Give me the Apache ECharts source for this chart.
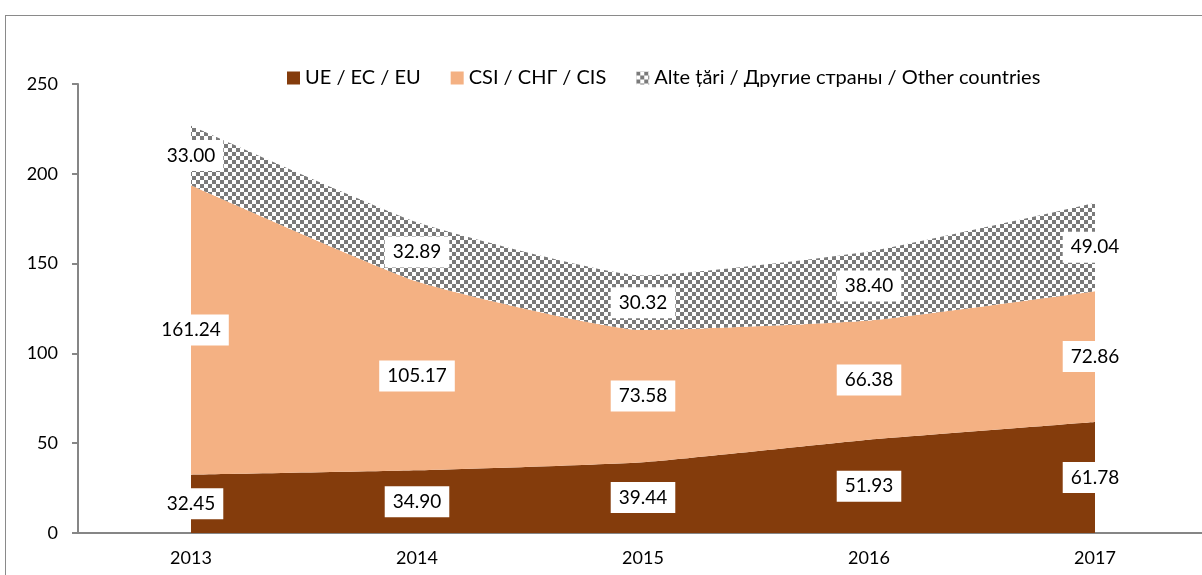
<!DOCTYPE html>
<html>
<head>
<meta charset="utf-8">
<script src="https://cdn.jsdelivr.net/npm/echarts@6/dist/echarts.min.js"></script>
<style>
  html, body { margin: 0; padding: 0; background: #fff; overflow: hidden; }
  #frame { position: absolute; left: 5px; top: 15px; width: 1210px; height: 580px; border: 1px solid #8a8a8a; box-sizing: border-box; }
  #chart { position: absolute; left: 0; top: 0; width: 1212px; height: 575px; }
</style>
</head>
<body>
<div id="frame"></div>
<div id="chart"></div>
<script>
window.addEventListener('load', function() {
// data
var years = ['2013', '2014', '2015', '2016', '2017'];
var seriesNames = ['UE / EC / EU', 'CSI / СНГ / CIS', 'Alte țări / Другие страны / Other countries'];
var ue = [32.45, 34.90, 39.44, 51.93, 61.78];
var csi = [161.24, 105.17, 73.58, 66.38, 72.86];
var other = [33.00, 32.89, 30.32, 38.40, 49.04];

// checker pattern for "other"
var pat = document.createElement('canvas');
pat.width = 8; pat.height = 8;
var ctx = pat.getContext('2d');
ctx.fillStyle = '#ffffff';
ctx.fillRect(0, 0, 8, 8);
ctx.fillStyle = '#7a7a7a';
ctx.fillRect(0, 0, 4, 4);
ctx.fillRect(4, 4, 4, 4);

var colors = ['#843c0c', '#f4b183', { image: pat, repeat: 'repeat' }];
var values = [ue, csi, other];

var series = [];
for (var i = 0; i < values.length; i++) {
  series.push({
    name: seriesNames[i],
    type: 'line',
    stack: 'total',
    smooth: 0.15,
    symbol: 'none',
    lineStyle: { width: 0 },
    itemStyle: { color: colors[i] },
    areaStyle: { color: colors[i], opacity: 1 },
    data: values[i],
    z: 2
  });
}

// labels in the middle of each band
var base = [0, 0, 0, 0, 0];
for (var i = 0; i < values.length; i++) {
  var pts = [];
  for (var j = 0; j < years.length; j++) {
    pts.push({ value: [years[j], base[j] + values[i][j] / 2], raw: values[i][j] });
    base[j] += values[i][j];
  }
  series.push({
    type: 'scatter',
    symbolSize: 1,
    silent: true,
    z: 5,
    itemStyle: { opacity: 0 },
    data: pts,
    label: {
      show: true,
      position: 'inside',
      opacity: 1,
      formatter: function(p) { return p.data.raw.toFixed(2); },
      color: '#000',
      fontFamily: 'Lato',
      fontSize: 19,
      backgroundColor: '#fff',
      padding: [6, 8, 6, 8]
    }
  });
}

var chart = echarts.init(document.getElementById('chart'));
chart.setOption({
  animation: false,
  textStyle: { fontFamily: 'Lato' },
  legend: {
    data: seriesNames,
    top: 63,
    left: 282,
    itemWidth: 13,
    itemHeight: 13,
    itemGap: 30,
    icon: 'rect',
    textStyle: { fontSize: 20, color: '#000', fontFamily: 'Lato' }
  },
  grid: { left: 78, right: 4, top: 84, bottom: 42 },
  xAxis: {
    type: 'category',
    data: years,
    boundaryGap: true,
    axisLine: { lineStyle: { color: '#868686', width: 2 } },
    axisTick: { show: false },
    axisLabel: { color: '#000', fontSize: 18, margin: 16 }
  },
  yAxis: {
    type: 'value',
    min: 0,
    max: 250,
    interval: 50,
    splitLine: { show: false },
    axisLine: { show: true, lineStyle: { color: '#868686', width: 2 } },
    axisTick: { show: true, inside: false, length: 6, lineStyle: { color: '#868686', width: 2 } },
    axisLabel: { color: '#000', fontSize: 18, margin: 20 }
  },
  series: series
});
});
</script>
</body>
</html>
